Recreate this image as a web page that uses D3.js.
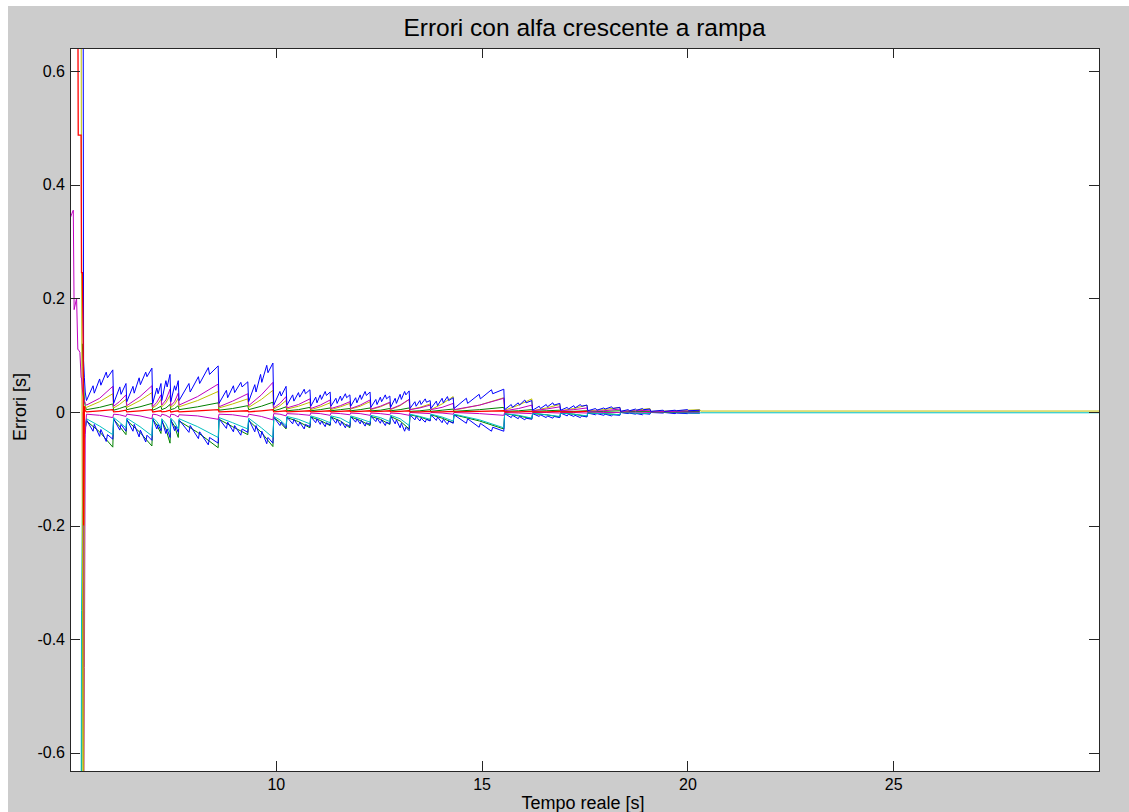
<!DOCTYPE html>
<html>
<head>
<meta charset="utf-8">
<script src="https://cdn.jsdelivr.net/npm/d3@7"></script>
<style>
body { margin: 0; background: #ffffff; }
svg { display: block; }
text { font-family: Arial, "Liberation Sans", sans-serif; fill: #000; }
</style>
</head>
<body>
<svg width="1129" height="812"></svg>
<script>
// istanti [s] delle curve a denti di sega (transitorio iniziale + rampe)
var tempo = [5.00, 5.05, 5.08, 5.10, 5.13, 5.16, 5.19, 5.20, 5.24, 5.27, 5.28, 5.30, 5.32, 5.33, 5.35, 5.37,
	5.40, 5.72, 6.04,  6.06, 6.20, 6.36,  6.38, 6.70, 6.99,  7.01, 7.11, 7.21,  7.23, 7.33, 7.43,
	7.45, 7.54, 7.63,  7.65, 8.10, 8.60,  8.62, 8.95, 9.32,  9.34, 9.65, 9.93,  9.95, 10.10, 10.25,
	10.27, 10.55, 10.83,  10.85, 11.08, 11.32,  11.34, 11.57, 11.80,  11.82, 12.05, 12.29,  12.31, 12.54, 12.77,
	12.79, 13.02, 13.24,  13.26, 13.50, 13.75,  13.77, 14.04, 14.31,  14.33, 14.95, 15.54,  15.56, 15.90, 16.22,
	16.24, 16.57, 16.90,  16.92, 17.24, 17.56,  17.58, 17.97, 18.36,  18.38, 18.74, 19.09,  19.11, 19.70, 20.30,
	20.32, 30.00];

// istanti piu' fitti per l'inviluppo blu (con i picchetti)
var tempoBlu = [5.30, 5.32, 5.33, 5.35, 5.37,
	5.40, 5.56, 5.59, 5.72, 5.75, 5.88, 5.91, 6.04,
	6.06, 6.21, 6.24, 6.36,
	6.38, 6.53, 6.56, 6.68, 6.71, 6.84, 6.87, 6.99,
	7.01, 7.11, 7.14, 7.21,
	7.23, 7.33, 7.36, 7.43,
	7.45, 7.54, 7.57, 7.63,
	7.65, 7.89, 7.92, 8.12, 8.15, 8.36, 8.39, 8.60,
	8.62, 8.80, 8.83, 8.97, 9.00, 9.15, 9.18, 9.32,
	9.34, 9.49, 9.52, 9.63, 9.66, 9.78, 9.81, 9.93,
	9.95, 10.10, 10.13, 10.25,
	10.27, 10.41, 10.44, 10.55, 10.58, 10.69, 10.72, 10.83,
	10.85, 10.97, 11.00, 11.08, 11.11, 11.20, 11.23, 11.32,
	11.34, 11.46, 11.49, 11.57, 11.60, 11.69, 11.72, 11.80,
	11.82, 11.94, 11.97, 12.05, 12.08, 12.17, 12.20, 12.29,
	12.31, 12.43, 12.46, 12.54, 12.57, 12.66, 12.69, 12.77,
	12.79, 12.90, 12.93, 13.02, 13.05, 13.13, 13.16, 13.24,
	13.26, 13.38, 13.41, 13.50, 13.53, 13.63, 13.66, 13.75,
	13.77, 13.90, 13.93, 14.04, 14.07, 14.17, 14.20, 14.31,
	14.33, 14.63, 14.66, 14.94, 14.97, 15.24, 15.27, 15.54,
	15.56, 15.72, 15.75, 15.89, 15.92, 16.05, 16.08, 16.22,
	16.24, 16.40, 16.43, 16.57, 16.60, 16.73, 16.76, 16.90,
	16.92, 17.08, 17.11, 17.24, 17.27, 17.40, 17.43, 17.56,
	17.58, 17.77, 17.80, 17.97, 18.00, 18.16, 18.19, 18.36,
	18.38, 18.56, 18.59, 18.74, 18.77, 18.91, 18.94, 19.09,
	19.11, 19.41, 19.44, 19.70, 19.73, 20.00, 20.03, 20.30];

var errBlu = [0.75, 0.75, 0.09, 0.06, 0.035,
	0.020, 0.046, 0.033, 0.058, 0.047, 0.070, 0.060, 0.074,
	0.015, 0.044, 0.031, 0.050,
	0.018, 0.045, 0.033, 0.060, 0.048, 0.070, 0.062, 0.077,
	0.015, 0.042, 0.032, 0.050,
	0.020, 0.055, 0.044, 0.066,
	0.018, 0.046, 0.038, 0.055,
	0.020, 0.050, 0.035, 0.062, 0.050, 0.078, 0.066, 0.081,
	0.015, 0.038, 0.025, 0.046, 0.034, 0.052, 0.044, 0.053,
	0.018, 0.048, 0.035, 0.066, 0.052, 0.082, 0.069, 0.086,
	0.012, 0.036, 0.028, 0.045,
	0.012, 0.030, 0.019, 0.034, 0.026, 0.040, 0.032, 0.039,
	0.010, 0.026, 0.016, 0.030, 0.022, 0.036, 0.029, 0.035,
	0.010, 0.024, 0.015, 0.028, 0.020, 0.032, 0.025, 0.030,
	0.010, 0.025, 0.016, 0.030, 0.022, 0.036, 0.029, 0.035,
	0.008, 0.022, 0.013, 0.026, 0.018, 0.030, 0.023, 0.028,
	0.008, 0.024, 0.015, 0.031, 0.022, 0.036, 0.030, 0.037,
	0.006, 0.018, 0.010, 0.020, 0.013, 0.023, 0.017, 0.020,
	0.006, 0.019, 0.011, 0.024, 0.016, 0.027, 0.020, 0.025,
	0.006, 0.024, 0.015, 0.031, 0.023, 0.039, 0.032, 0.040,
	0.004, 0.013, 0.008, 0.016, 0.012, 0.021, 0.016, 0.020,
	0.003, 0.010, 0.006, 0.013, 0.009, 0.016, 0.012, 0.015,
	0.003, 0.008, 0.005, 0.011, 0.007, 0.013, 0.010, 0.012,
	0.002, 0.006, 0.003, 0.007, 0.005, 0.009, 0.006, 0.008,
	0.001, 0.004, 0.002, 0.005, 0.003, 0.006, 0.004, 0.005,
	0.001, 0.003, 0.001, 0.003, 0.002, 0.004, 0.002, 0.003];

var errBluNeg = [null, -0.30, -0.45, -0.05, -0.03,
	-0.014, -0.034, -0.022, -0.043, -0.031, -0.052, -0.040, -0.048,
	-0.012, -0.032, -0.022, -0.034,
	-0.013, -0.034, -0.022, -0.044, -0.032, -0.053, -0.041, -0.050,
	-0.012, -0.030, -0.022, -0.033,
	-0.014, -0.038, -0.030, -0.045,
	-0.013, -0.033, -0.025, -0.036,
	-0.014, -0.036, -0.024, -0.047, -0.035, -0.058, -0.045, -0.055,
	-0.012, -0.029, -0.018, -0.035, -0.024, -0.041, -0.030, -0.036,
	-0.013, -0.035, -0.024, -0.046, -0.034, -0.056, -0.045, -0.055,
	-0.009, -0.024, -0.018, -0.028,
	-0.009, -0.021, -0.013, -0.025, -0.018, -0.030, -0.022, -0.026,
	-0.008, -0.019, -0.012, -0.022, -0.016, -0.026, -0.019, -0.023,
	-0.008, -0.020, -0.013, -0.024, -0.017, -0.028, -0.022, -0.026,
	-0.008, -0.018, -0.012, -0.021, -0.015, -0.025, -0.019, -0.022,
	-0.007, -0.017, -0.011, -0.020, -0.014, -0.024, -0.018, -0.021,
	-0.007, -0.021, -0.014, -0.028, -0.020, -0.034, -0.027, -0.033,
	-0.005, -0.014, -0.008, -0.016, -0.011, -0.018, -0.013, -0.016,
	-0.005, -0.015, -0.009, -0.019, -0.013, -0.022, -0.016, -0.020,
	-0.005, -0.020, -0.012, -0.027, -0.020, -0.034, -0.027, -0.034,
	-0.003, -0.010, -0.006, -0.012, -0.008, -0.014, -0.011, -0.013,
	-0.003, -0.008, -0.005, -0.010, -0.007, -0.011, -0.008, -0.010,
	-0.002, -0.007, -0.004, -0.008, -0.006, -0.010, -0.007, -0.009,
	-0.002, -0.005, -0.003, -0.006, -0.004, -0.007, -0.005, -0.006,
	-0.001, -0.003, -0.002, -0.004, -0.003, -0.005, -0.003, -0.004,
	-0.001, -0.002, -0.001, -0.003, -0.002, -0.003, -0.002, -0.002];

var errMagenta = [0.34, 0.35, 0.355, 0.18, 0.19, 0.20, 0.11, 0.11, 0.105, 0.06, 0.06, 0.04, 0.03, 0.025, 0.02, 0.015,
	0.012, 0.024, 0.045,  0.010, 0.018, 0.030,  0.011, 0.027, 0.046,  0.009, 0.017, 0.030,  0.012, 0.021, 0.040,
	0.011, 0.018, 0.033,  0.012, 0.027, 0.049,  0.009, 0.019, 0.032,  0.011, 0.030, 0.052,  0.007, 0.015, 0.027,
	0.007, 0.013, 0.023,  0.006, 0.012, 0.021,  0.006, 0.011, 0.018,  0.006, 0.012, 0.021,  0.005, 0.010, 0.017,
	0.005, 0.012, 0.022,  0.004, 0.007, 0.012,  0.004, 0.008, 0.015,  0.004, 0.012, 0.024,  0.002, 0.006, 0.012,
	0.002, 0.005, 0.009,  0.002, 0.004, 0.007,  0.001, 0.002, 0.005,  0.001, 0.002, 0.003,  0.000, 0.001, 0.002,
	null, null];

var errGiallo = [null, null, null, null, null, null, null, null, null, 0.75, 0.30, -0.20, -0.75, -0.75, 0.00, 0.010,
	0.008, 0.018, 0.032,  0.007, 0.013, 0.022,  0.008, 0.020, 0.034,  0.007, 0.012, 0.022,  0.009, 0.016, 0.029,
	0.008, 0.013, 0.024,  0.009, 0.020, 0.036,  0.007, 0.014, 0.023,  0.008, 0.022, 0.038,  0.005, 0.011, 0.020,
	0.005, 0.010, 0.017,  0.004, 0.009, 0.016,  0.004, 0.009, 0.015,  0.005, 0.010, 0.018,  0.004, 0.009, 0.016,
	0.004, 0.011, 0.022,  0.004, 0.008, 0.014,  0.004, 0.014, 0.027,  0.003, 0.012, 0.025,  0.003, 0.012, 0.023,
	0.002, 0.007, 0.013,  0.002, 0.006, 0.012,  0.002, 0.004, 0.008,  0.001, 0.003, 0.006,  0.001, 0.002, 0.004,
	0.0015, 0.0015];

var errVerde = [null, null, null, null, null, null, null, null, null, null, null, 0.12, 0.08, 0.05, 0.02, 0.010,
	0.004, 0.008, 0.014,  0.003, 0.006, 0.010,  0.004, 0.009, 0.015,  0.003, 0.006, 0.010,  0.004, 0.007, 0.013,
	0.004, 0.006, 0.011,  0.004, 0.009, 0.016,  0.003, 0.006, 0.011,  0.004, 0.010, 0.017,  0.002, 0.005, 0.009,
	0.002, 0.004, 0.008,  0.002, 0.004, 0.007,  0.002, 0.004, 0.006,  0.002, 0.004, 0.007,  0.002, 0.003, 0.006,
	0.002, 0.004, 0.007,  0.001, 0.002, 0.004,  0.001, 0.003, 0.005,  0.001, 0.004, 0.008,  0.001, 0.002, 0.004,
	0.001, 0.002, 0.003,  0.001, 0.001, 0.002,  0.000, 0.001, 0.002,  0.000, 0.001, 0.001,  0.000, 0.000, 0.001,
	null, null];

var errRosso = [null, null, null, null, null, null, 0.75, 0.487, 0.487, 0.487, 0.245, 0.245, 0.12, -0.20, 0.010, 0.002,
	0.000, 0.002, 0.004,  0.000, 0.001, 0.003,  0.000, 0.002, 0.004,  0.000, 0.001, 0.002,  0.000, 0.001, 0.003,
	0.000, 0.001, 0.002,  0.000, 0.002, 0.004,  0.000, 0.001, 0.002,  0.000, 0.002, 0.004,  0.000, 0.001, 0.002,
	0.000, 0.001, 0.002,  0.000, 0.001, 0.002,  0.000, 0.001, 0.002,  0.000, 0.001, 0.002,  0.000, 0.001, 0.002,
	0.000, 0.001, 0.002,  0.000, 0.000, 0.001,  0.000, 0.000, 0.001,  0.000, 0.001, 0.002,  0.000, 0.000, 0.001,
	0.000, 0.000, 0.001,  0.000, 0.000, 0.001,  null, null, null,  null, null, null,  null, null, null,
	null, null];

var errMagentaNeg = [null, null, null, null, null, null, null, null, null, null, null, null, 0.00, -0.75, -0.45, -0.04,
	-0.004, -0.006, -0.010,  -0.004, -0.005, -0.008,  -0.004, -0.007, -0.012,  -0.004, -0.005, -0.008,  -0.004, -0.006, -0.010,
	-0.004, -0.005, -0.009,  -0.005, -0.007, -0.013,  -0.004, -0.005, -0.009,  -0.004, -0.008, -0.014,  -0.003, -0.004, -0.007,
	-0.003, -0.004, -0.006,  -0.002, -0.003, -0.006,  -0.002, -0.003, -0.005,  -0.002, -0.003, -0.006,  -0.002, -0.003, -0.005,
	-0.002, -0.003, -0.006,  -0.001, -0.002, -0.003,  -0.001, -0.002, -0.004,  -0.001, -0.003, -0.006,  -0.001, -0.002, -0.003,
	-0.001, -0.001, -0.002,  -0.001, -0.001, -0.002,  0.000, -0.001, -0.001,  0.000, 0.000, -0.001,  0.000, 0.000, 0.000,
	null, null];

var errCiano = [null, null, null, null, null, null, null, null, null, -0.75, -0.35, -0.18, -0.10, -0.05, -0.03, -0.03,
	-0.012, -0.025, -0.040,  -0.010, -0.018, -0.028,  -0.011, -0.026, -0.042,  -0.010, -0.017, -0.028,  -0.012, -0.021, -0.036,
	-0.011, -0.018, -0.030,  -0.012, -0.026, -0.045,  -0.010, -0.019, -0.030,  -0.011, -0.028, -0.045,  -0.008, -0.014, -0.024,
	-0.008, -0.013, -0.021,  -0.007, -0.012, -0.019,  -0.007, -0.011, -0.020,  -0.007, -0.012, -0.018,  -0.006, -0.010, -0.017,
	-0.006, -0.012, -0.024,  -0.004, -0.008, -0.013,  -0.004, -0.009, -0.016,  -0.004, -0.014, -0.028,  -0.003, -0.006, -0.011,
	-0.002, -0.005, -0.008,  -0.002, -0.004, -0.007,  -0.002, -0.003, -0.005,  -0.001, -0.002, -0.003,  -0.001, -0.001, -0.002,
	-0.0015, -0.0015];

var errVerdeNeg = [null, null, null, null, null, null, null, null, null, null, -0.75, -0.35, -0.20, -0.05, -0.03, -0.03,
	-0.016, -0.035, -0.062,  -0.013, -0.025, -0.040,  -0.015, -0.036, -0.060,  -0.013, -0.023, -0.038,  -0.016, -0.030, -0.055,
	-0.015, -0.025, -0.045,  -0.016, -0.036, -0.063,  -0.013, -0.026, -0.040,  -0.015, -0.036, -0.061,  -0.010, -0.018, -0.030,
	-0.010, -0.017, -0.028,  -0.009, -0.015, -0.024,  -0.009, -0.016, -0.028,  -0.009, -0.015, -0.024,  -0.008, -0.013, -0.022,
	-0.008, -0.016, -0.030,  -0.005, -0.009, -0.015,  -0.005, -0.011, -0.019,  -0.005, -0.016, -0.030,  -0.003, -0.007, -0.012,
	-0.003, -0.005, -0.009,  -0.002, -0.004, -0.008,  -0.002, -0.003, -0.005,  -0.001, -0.002, -0.003,  -0.001, -0.001, -0.002,
	null, null];

var xTicks = [10, 15, 20, 25];
var yTicks = [-0.6, -0.4, -0.2, 0, 0.2, 0.4, 0.6];

var svg = d3.select("svg");

// sfondo della figura
svg.append("rect")
	.attr("x", 8).attr("y", 6)
	.attr("width", 1121).attr("height", 806)
	.attr("fill", "#cccccc");

var axL = 70, axR = 1099, axT = 48, axB = 771;

var x = d3.scaleLinear().domain([5, 30]).range([axL, axR]);
var y = d3.scaleLinear().domain([-0.632, 0.6405]).range([axB, axT]);

svg.append("rect")
	.attr("x", axL).attr("y", axT)
	.attr("width", axR - axL).attr("height", axB - axT)
	.attr("fill", "#ffffff");

svg.append("clipPath").attr("id", "area")
	.append("rect")
	.attr("x", axL).attr("y", axT)
	.attr("width", axR - axL).attr("height", axB - axT);

var serie = [
	{ t: tempo, v: errVerdeNeg, c: "#008000", w: 1 },
	{ t: tempoBlu, v: errBluNeg, c: "#0000ff", w: 1 },
	{ t: tempo, v: errCiano, c: "#00bfbf", w: 1 },
	{ t: tempo, v: errMagentaNeg, c: "#bf00bf", w: 1 },
	{ t: tempo, v: errVerde, c: "#008000", w: 1 },
	{ t: tempo, v: errGiallo, c: "#bfbf00", w: 1 },
	{ t: tempo, v: errMagenta, c: "#bf00bf", w: 1 },
	{ t: tempoBlu, v: errBlu, c: "#0000ff", w: 1 },
	{ t: tempo, v: errRosso, c: "#ff0000", w: 1.3 }
];

var line = d3.line()
	.defined(function(d){ return d[1] !== null && d[1] !== undefined; })
	.x(function(d){ return x(d[0]); })
	.y(function(d){ return y(d[1]); });

var g = svg.append("g").attr("clip-path", "url(#area)");
serie.forEach(function(s){
	var dati = s.t.map(function(t, i){ return [t, s.v[i]]; });
	g.append("path")
		.attr("d", line(dati))
		.attr("fill", "none")
		.attr("stroke", s.c)
		.attr("stroke-width", s.w);
});

// assi stile matlab: tacche verso l'interno su tutti i lati
var fmt = function(d){ return d === 0 ? "0" : d.toFixed(1); };

var ax = svg.append("g").attr("transform", "translate(0," + axB + ")")
	.call(d3.axisBottom(x).tickValues(xTicks).tickSizeInner(-10).tickSizeOuter(0).tickPadding(8));
var axTop = svg.append("g").attr("transform", "translate(0," + axT + ")")
	.call(d3.axisTop(x).tickValues(xTicks).tickSizeInner(-10).tickSizeOuter(0).tickFormat(""));
var ay = svg.append("g").attr("transform", "translate(" + axL + ",0)")
	.call(d3.axisLeft(y).tickValues(yTicks).tickSizeInner(-10).tickSizeOuter(0).tickPadding(5).tickFormat(fmt));
var ayRight = svg.append("g").attr("transform", "translate(" + axR + ",0)")
	.call(d3.axisRight(y).tickValues(yTicks).tickSizeInner(-10).tickSizeOuter(0).tickFormat(""));

[ax, axTop, ay, ayRight].forEach(function(a){
	a.select(".domain").remove();
	a.selectAll("line").attr("stroke", "#262626").attr("shape-rendering", "crispEdges");
	a.selectAll("text").style("font-size", "16px").attr("fill", "#000")
		.style("font-family", "Arial, 'Liberation Sans', sans-serif");
});

svg.append("rect")
	.attr("x", axL).attr("y", axT)
	.attr("width", axR - axL).attr("height", axB - axT)
	.attr("fill", "none")
	.attr("stroke", "#262626")
	.attr("stroke-width", 1)
	.attr("shape-rendering", "crispEdges");

// titolo ed etichette
svg.append("text")
	.attr("x", (axL + axR) / 2).attr("y", 36)
	.attr("text-anchor", "middle")
	.style("font-size", "24.5px")
	.text("Errori con alfa crescente a rampa");

svg.append("text")
	.attr("x", 583).attr("y", 809)
	.attr("text-anchor", "middle")
	.style("font-size", "18px")
	.text("Tempo reale [s]");

svg.append("text")
	.attr("transform", "translate(26,407) rotate(-90)")
	.attr("text-anchor", "middle")
	.style("font-size", "18px")
	.text("Errori [s]");
</script>
</body>
</html>
